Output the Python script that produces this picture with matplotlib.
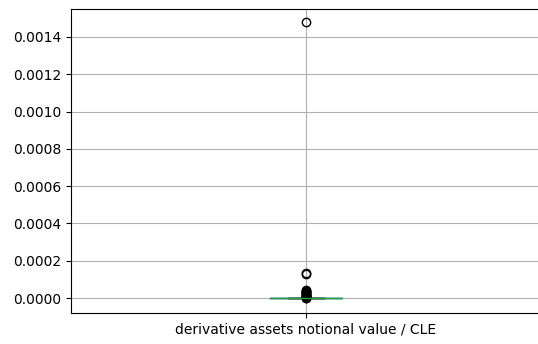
import numpy as np
import pandas as pd
import matplotlib
matplotlib.use("Agg")
import matplotlib.pyplot as plt

col = "derivative assets notional value / CLE"

# banks with little or no derivative exposure
small = [0.0, 0.0, 0.0, 0.0, 0.0, 0.0, 0.0, 0.0, 0.0, 0.0,
         0.0, 0.0, 0.0, 0.0, 0.0, 0.0, 0.0, 0.0, 0.0, 0.0,
         1e-8, 1e-8, 2e-8, 2e-8, 3e-8, 3e-8, 4e-8, 5e-8, 5e-8, 6e-8,
         7e-8, 8e-8, 9e-8, 1e-7, 1.1e-7, 1.2e-7, 1.4e-7, 1.5e-7, 1.7e-7, 2e-7,
         0.0, 0.0, 0.0, 0.0, 0.0, 0.0, 0.0, 0.0, 0.0, 0.0,
         0.0, 0.0, 0.0, 0.0, 0.0, 0.0, 0.0, 0.0, 0.0, 0.0]
# larger ratios
large = [0.00148, 0.000135, 0.000128,
         0.000042, 0.000039, 0.000036, 0.000033, 0.00003, 0.000027,
         0.000024, 0.000021, 0.000018, 0.000015, 0.000012, 0.00001,
         0.000008, 0.000006, 0.000004, 0.000003, 0.000002]

df = pd.DataFrame({col: small + large})

fig = plt.figure(figsize=(5.38, 3.44), dpi=100)
ax = fig.add_axes([71 / 538, 31 / 344, 470 / 538, 304 / 344])
df.boxplot(column=[col], ax=ax, widths=0.155, grid=True)
ax.set_xlim(0.5, 1.5)
ax.set_ylim(-0.00008, 0.00155)
ax.set_yticks(np.arange(0, 0.0015, 0.0002))
ax.set_yticklabels([f"{v:.4f}" for v in np.arange(0, 0.0015, 0.0002)])
fig.savefig("out.png", dpi=100)
